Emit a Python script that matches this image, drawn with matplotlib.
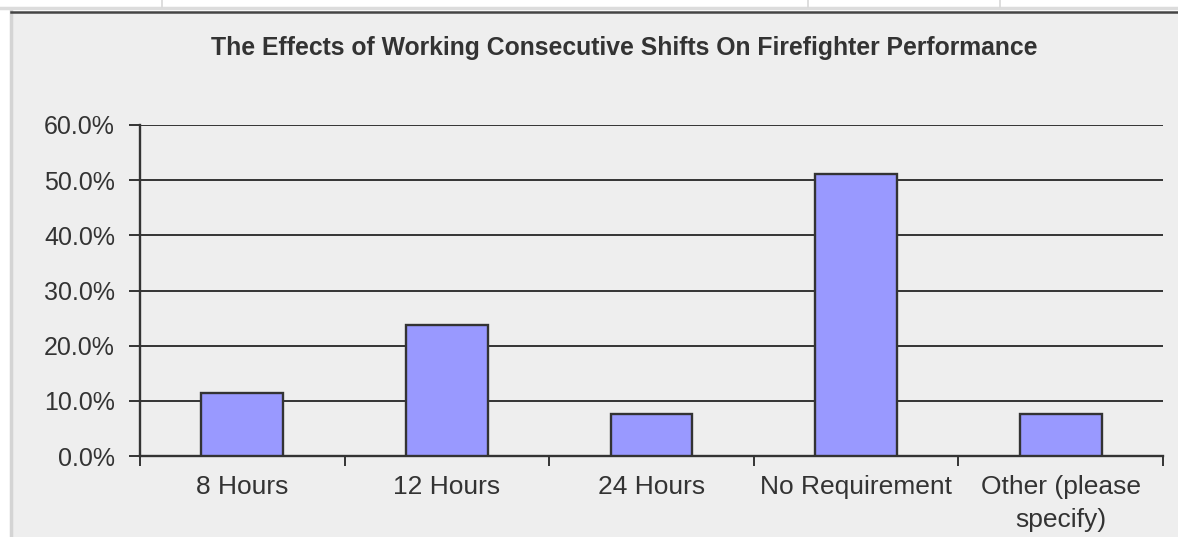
import matplotlib
matplotlib.use("Agg")
import matplotlib.pyplot as plt
from matplotlib.lines import Line2D
from matplotlib.patches import Rectangle
from matplotlib.ticker import FuncFormatter, MultipleLocator

# Survey responses: minimum rest before consecutive shifts
categories = ["8 Hours", "12 Hours", "24 Hours", "No Requirement", "Other (please\nspecify)"]
percent = [11.4, 23.7, 7.7, 51.1, 7.7]

title = "The Effects of Working Consecutive Shifts On Firefighter Performance"

W, H = 1178, 537
bg = "#eeeeee"
bar_color = "#9999ff"
ink = "#333333"

plt.rcParams["font.family"] = ["Liberation Sans", "DejaVu Sans"]

fig = plt.figure(figsize=(W / 100, H / 100), dpi=100)
fig.patch.set_facecolor("white")

# chart area background plus the sheet strip above it
fig.patches.append(Rectangle((12 / W, 0), 1 - 12 / W, 1 - 12 / H, transform=fig.transFigure,
                             facecolor=bg, edgecolor="none", zorder=-5))
fig.lines.append(Line2D([11 / W, 11 / W], [0, 1 - 10 / H], transform=fig.transFigure,
                        color="#d4d4d4", lw=2.5, zorder=-4))
fig.lines.append(Line2D([0, 1], [1 - 7.5 / H, 1 - 7.5 / H], transform=fig.transFigure,
                        color="#dcdcdc", lw=2.5, zorder=-4))
fig.lines.append(Line2D([11 / W, 1], [1 - 12 / H, 1 - 12 / H], transform=fig.transFigure,
                        color="#444444", lw=1.8, zorder=-4))
for x in [162, 808, 1000]:
    fig.lines.append(Line2D([x / W, x / W], [1 - 7 / H, 1], transform=fig.transFigure,
                            color="#d8d8d8", lw=1.2, zorder=-4))

left, right, top, bottom = 140, 1163, 125, 456
ax = fig.add_axes([left / W, 1 - bottom / H, (right - left) / W, (bottom - top) / H])
ax.set_facecolor(bg)

x = range(len(categories))
ax.bar(x, percent, width=0.4, color=bar_color, edgecolor=ink, linewidth=1.7, zorder=3)

ax.set_xlim(-0.5, len(categories) - 0.5)
ax.set_ylim(0, 60)
ax.yaxis.set_major_locator(MultipleLocator(10))
ax.yaxis.set_major_formatter(FuncFormatter(lambda v, _: f"{v:.1f}%"))
ax.grid(axis="y", color=ink, linewidth=1.4, zorder=1)

ax.set_xticks([i - 0.5 for i in range(len(categories) + 1)], minor=False)
ax.set_xticklabels([])
ax.set_xticks(list(x), minor=True)
ax.set_xticklabels(categories, minor=True, fontsize=19, color=ink, linespacing=1.45)
ax.tick_params(axis="x", which="major", direction="out", length=7, width=1.4, color=ink)
ax.tick_params(axis="x", which="minor", length=0, pad=14)
ax.tick_params(axis="y", direction="out", length=8, width=1.4, color=ink,
               labelsize=18, labelcolor=ink, pad=10)

for side in ["top", "right"]:
    ax.spines[side].set_visible(False)
ax.spines["left"].set_color(ink)
ax.spines["left"].set_linewidth(1.7)
ax.spines["bottom"].set_color(ink)
ax.spines["bottom"].set_linewidth(1.7)

fig.text(624 / W, 1 - 48 / H, title, ha="center", va="center", fontsize=17.8,
         fontweight="bold", color=ink)

fig.savefig("out.png", dpi=100, facecolor=fig.get_facecolor())
